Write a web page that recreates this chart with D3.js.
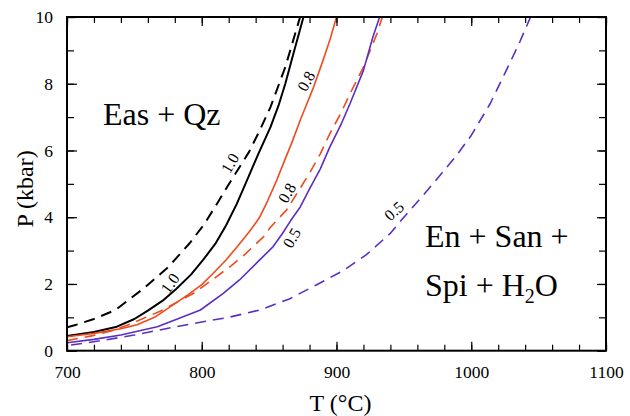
<!DOCTYPE html>
<html>
<head>
<meta charset="utf-8">
<script src="https://cdn.jsdelivr.net/npm/d3@7"></script>
<style>
  html, body { margin: 0; padding: 0; background: #fff; }
  svg text { font-family: "Liberation Serif", "Times New Roman", Times, serif !important; }
</style>
</head>
<body>
<svg id="chart" width="630" height="416"></svg>
<script>
// ---------- data ----------
const xDomain = [700, 1100];
const yDomain = [0, 10];
const xMajorTicks = [700, 800, 900, 1000, 1100];
const yMajorTicks = [0, 2, 4, 6, 8, 10];

// [T (°C), P (kbar)]
const blackSolid = [[700,0.44],[720,0.56],[737,0.72],[750,0.95],[760,1.2],[771,1.5],[781,1.85],[792,2.28],[801,2.72],[810,3.2],[818,3.75],[826,4.4],[833,5.05],[842,5.9],[851,6.7],[857,7.35],[862,8.0],[868,8.9],[875.5,10]];
const blackDashed = [[700,0.7],[707,0.78],[720,0.95],[736,1.22],[757,1.87],[775,2.5],[791,3.22],[802,3.8],[812,4.45],[821,5.05],[835,5.95],[843,6.6],[851,7.3],[862,8.5],[873,10]];
const redSolid = [[700,0.42],[720,0.52],[740,0.66],[752,0.78],[765,1.0],[779,1.38],[790,1.68],[800,1.98],[808,2.3],[818,2.72],[826,3.1],[836,3.6],[843,4.0],[849,4.5],[855,5.05],[861,5.65],[867,6.25],[873,6.9],[878,7.4],[883,7.9],[890,8.7],[895,9.3],[900,10]];
const redDashed = [[700,0.3],[720,0.46],[735,0.62],[747,0.8],[770,1.2],[794,1.72],[811,2.22],[822,2.55],[831,2.85],[846,3.42],[851,3.7],[863,4.22],[872,4.8],[880,5.32],[888,5.9],[895,6.5],[903,7.1],[910,7.7],[920,8.5],[930,9.5],[934,10]];
const purpleSolid = [[700,0.24],[720,0.34],[740,0.47],[767,0.72],[780,0.92],[799,1.22],[816,1.72],[828,2.12],[843,2.72],[853,3.12],[860,3.52],[866,3.9],[873,4.3],[880,4.85],[888,5.45],[895,6.1],[903,6.75],[910,7.4],[920,8.4],[927,9.4],[932,10]];
const purpleDashed = [[703,0.17],[725,0.3],[750,0.47],[776,0.68],[800,0.86],[820,1.0],[843,1.22],[865,1.55],[885,1.97],[905,2.4],[922,2.87],[940,3.52],[950,4.0],[962,4.55],[972,5.02],[989,5.85],[1000,6.45],[1014,7.4],[1026,8.4],[1036,9.25],[1044,10]];

const series = [
  { name: "1.0 solid",   values: blackSolid,   color: "#000000", width: 2.0, dash: null },
  { name: "1.0 dashed",  values: blackDashed,  color: "#000000", width: 2.0, dash: "11,7" },
  { name: "0.8 solid",   values: redSolid,     color: "#ee4a1e", width: 1.6, dash: null },
  { name: "0.8 dashed",  values: redDashed,    color: "#ee4a1e", width: 1.6, dash: "11,7" },
  { name: "0.5 solid",   values: purpleSolid,  color: "#5a2ec4", width: 1.6, dash: null },
  { name: "0.5 dashed",  values: purpleDashed, color: "#5a2ec4", width: 1.6, dash: "11,7" }
];

// curve labels: text, T, P, rotation
const curveLabels = [
  ["1.0", 821, 5.62, -60],
  ["1.0", 776.5, 2.02, -55],
  ["0.8", 877.5, 8.08, -62],
  ["0.8", 863.3, 4.73, -60],
  ["0.5", 866.7, 3.38, -60],
  ["0.5", 942.7, 4.19, -42]
];

// ---------- layout ----------
const FONT = "'Liberation Serif', 'Times New Roman', Times, serif";
const svg = d3.select("#chart").style("font-family", FONT);
const mL = 67, mR = 606, mT = 17, mB = 350.7;
const x = d3.scaleLinear().domain(xDomain).range([mL, mR]);
const y = d3.scaleLinear().domain(yDomain).range([mB, mT]);

const g = svg.append("g");

// curves
const line = d3.line().x(d => x(d[0])).y(d => y(d[1]));
svg.append("clipPath").attr("id", "clip")
  .append("rect").attr("x", mL).attr("y", mT).attr("width", mR - mL).attr("height", mB - mT);

g.append("g").attr("clip-path", "url(#clip)")
  .selectAll("path").data(series).join("path")
  .attr("d", d => line(d.values))
  .attr("fill", "none")
  .attr("stroke", d => d.color)
  .attr("stroke-width", d => d.width)
  .attr("stroke-dasharray", d => d.dash)
  .attr("stroke-linejoin", "round");

// axes with inward ticks
const xMinor = d3.range(700, 1101, 20);
const yMinor = d3.range(0, 10.01, 1);
const fmt = d3.format("d");

function addAxis(axisGen, transform) {
  const a = g.append("g").attr("transform", transform).call(axisGen);
  a.attr("font-family", FONT);
  a.select(".domain").remove();
  a.selectAll("line").attr("stroke", "#000").attr("stroke-width", 1.2);
  return a;
}
// bottom
addAxis(d3.axisBottom(x).tickValues(xMinor).tickSize(-6).tickFormat(""), `translate(0,${mB})`);
const xb = addAxis(d3.axisBottom(x).tickValues(xMajorTicks).tickSize(-9).tickPadding(15).tickFormat(fmt), `translate(0,${mB})`);
xb.selectAll("text").attr("font-size", 17.5).attr("fill", "#000");
// top
addAxis(d3.axisTop(x).tickValues(xMinor).tickSize(-6).tickFormat(""), `translate(0,${mT})`);
addAxis(d3.axisTop(x).tickValues(xMajorTicks).tickSize(-9).tickFormat(""), `translate(0,${mT})`);
// left
addAxis(d3.axisLeft(y).tickValues(yMinor).tickSize(-7).tickFormat(""), `translate(${mL},0)`);
const yl = addAxis(d3.axisLeft(y).tickValues(yMajorTicks).tickSize(-10).tickPadding(14).tickFormat(fmt), `translate(${mL},0)`);
yl.selectAll("text").attr("font-size", 17.5).attr("fill", "#000");
// right
addAxis(d3.axisRight(y).tickValues(yMinor).tickSize(-7).tickFormat(""), `translate(${mR},0)`);
addAxis(d3.axisRight(y).tickValues(yMajorTicks).tickSize(-9).tickFormat(""), `translate(${mR},0)`);

// frame
g.append("rect").attr("x", mL).attr("y", mT).attr("width", mR - mL).attr("height", mB - mT)
  .attr("fill", "none").attr("stroke", "#000").attr("stroke-width", 2);

// axis titles
g.append("text").attr("x", (mL + mR) / 2 + 4).attr("y", 411)
  .attr("text-anchor", "middle").attr("font-size", 24).attr("font-family", FONT).text("T (°C)");
g.append("text").attr("transform", `translate(33,${(mT + mB) / 2 + 5}) rotate(-90)`)
  .attr("text-anchor", "middle").attr("font-size", 24).attr("font-family", FONT).text("P (kbar)");

// curve labels
g.selectAll("text.cl").data(curveLabels).join("text").attr("class", "cl")
  .attr("transform", d => `translate(${x(d[1])},${y(d[2])}) rotate(${d[3]})`)
  .attr("text-anchor", "middle").attr("dominant-baseline", "central")
  .attr("font-family", FONT).attr("font-size", 16).text(d => d[0]);

// field labels
g.append("text").attr("x", x(726.7)).attr("y", y(6.76)).attr("font-size", 32).attr("font-family", FONT).text("Eas + Qz");
g.append("text").attr("x", x(965.7)).attr("y", y(3.11)).attr("font-size", 32).attr("font-family", FONT).text("En + San +");
const t = g.append("text").attr("x", x(965.7)).attr("y", y(1.64)).attr("font-size", 32).attr("font-family", FONT);
t.append("tspan").text("Spi + H");
t.append("tspan").attr("font-size", 20).attr("dy", 7).text("2");
t.append("tspan").attr("dy", -7).text("O");
</script>
</body>
</html>
